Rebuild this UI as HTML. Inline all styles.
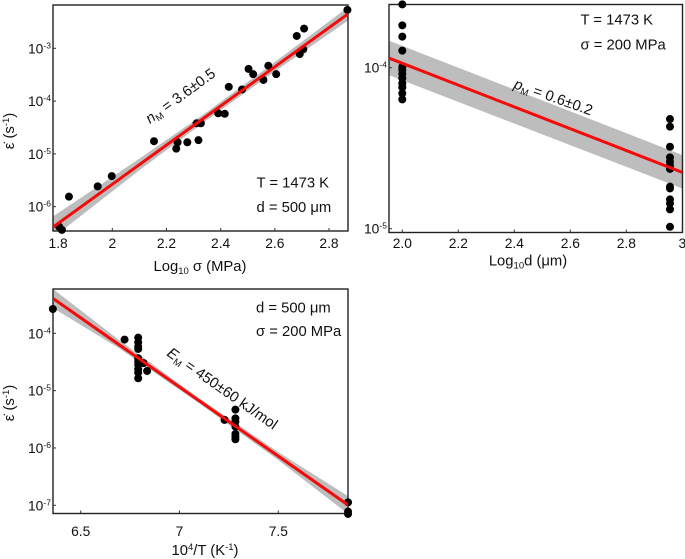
<!DOCTYPE html>
<html>
<head>
<meta charset="utf-8">
<title>Creep rate charts</title>
<style>
html,body{margin:0;padding:0;background:#fff;width:685px;height:559px;overflow:hidden}
svg{display:block;filter:blur(0.35px)}
text{font-family:"Liberation Sans","DejaVu Sans",sans-serif;fill:#111}
.a{font-size:14.8px}.t{font-size:13.8px}
</style>
</head>
<body>
<svg id="fig" xmlns="http://www.w3.org/2000/svg" width="685" height="559" viewBox="0 0 685 559">
<defs>
<clipPath id="c1"><rect x="53" y="5" width="295" height="226"/></clipPath>
<clipPath id="c2"><rect x="389" y="4.5" width="293.5" height="228"/></clipPath>
<clipPath id="c3"><rect x="53" y="289" width="295" height="224.5"/></clipPath>
</defs>
<g id="p1"></g>
<g id="p2"></g>
<g id="p3"></g>

<text class="a" x="200" y="271" text-anchor="middle">Log<tspan font-size="9.5" dy="3">10</tspan><tspan dy="-3"> σ (MPa)</tspan></text>
<text class="a" transform="translate(14,131) rotate(-90)" text-anchor="middle">ε̇ (s<tspan font-size="9.5" dy="-5">-1</tspan><tspan dy="5">)</tspan></text>
<text class="a" x="256.5" y="187.5">T = 1473 K</text>
<text class="a" x="256.5" y="212">d = 500 μm</text>
<text class="a" transform="translate(150,124) rotate(-36)"><tspan font-style="italic">n</tspan><tspan font-size="9.5" dy="3">M</tspan><tspan dy="-3"> = 3.6±0.5</tspan></text>

<text class="a" x="528" y="265.5" text-anchor="middle">Log<tspan font-size="9.5" dy="3">10</tspan><tspan dy="-3">d (μm)</tspan></text>
<text class="a" x="580.5" y="24.5">T = 1473 K</text>
<text class="a" x="580.5" y="49.5">σ = 200 MPa</text>
<text class="a" transform="translate(513,88) rotate(19.5)"><tspan font-style="italic">p</tspan><tspan font-size="9.5" dy="3">M</tspan><tspan dy="-3"> = 0.6±0.2</tspan></text>

<text class="a" x="205" y="555" text-anchor="middle">10<tspan font-size="9.5" dy="-5">4</tspan><tspan dy="5">/T (K</tspan><tspan font-size="9.5" dy="-5">-1</tspan><tspan dy="5">)</tspan></text>
<text class="a" transform="translate(14,403) rotate(-90)" text-anchor="middle">ε̇ (s<tspan font-size="9.5" dy="-5">-1</tspan><tspan dy="5">)</tspan></text>
<text class="a" x="256" y="312.5">d = 500 μm</text>
<text class="a" x="256" y="336">σ = 200 MPa</text>
<text class="a" transform="translate(166,355) rotate(35)"><tspan font-style="italic">E</tspan><tspan font-size="9.5" dy="3">M</tspan><tspan dy="-3"> = 450±60 kJ/mol</tspan></text>
</svg>
<script>
// Panel 1: stress
const p1XTicks = [1.8, 2, 2.2, 2.4, 2.6, 2.8];
const p1YTicks = [-3, -4, -5, -6];
const p1PointsX = [2.868,2.708,2.681,2.705,2.692,2.576,2.503,2.52,2.605,2.558,2.479,2.43,2.391,2.415,2.311,2.327,2.154,2.241,2.277,2.318,2.236,1.998,1.946,1.84,1.804,1.814];
const p1PointsLogRate = [-2.274,-2.627,-2.766,-3.02,-3.11,-3.33,-3.39,-3.49,-3.49,-3.6,-3.78,-3.73,-4.23,-4.24,-4.42,-4.42,-4.76,-4.78,-4.78,-4.74,-4.9,-5.42,-5.615,-5.81,-6.38,-6.44];
const p1FitX = [1.78, 2.87];
const p1FitLogRate = [-6.39, -2.35];
const p1BandX = [1.78, 2.1, 2.35, 2.6, 2.87];
const p1BandUpper = [-6.19, -5.09, -4.205, -3.26, -2.223];
const p1BandLower = [-6.59, -5.31, -4.355, -3.44, -2.477];

// Panel 2: grain size
const p2XTicks = [2, 2.2, 2.4, 2.6, 2.8, 3];
const p2XTickLabels = ["2.0", "2.2", "2.4", "2.6", "2.8", "3"];
const p2YTicks = [-4, -5];
const p2PointsX = [2,2,2,2,2,2,2,2,2,2,2,2,2.956,2.956,2.956,2.956,2.956,2.956,2.956,2.956,2.956,2.956,2.956,2.956,2.956];
const p2PointsLogRate = [-3.607,-3.737,-3.807,-3.894,-3.994,-4.014,-4.039,-4.066,-4.097,-4.122,-4.159,-4.197,-4.319,-4.366,-4.491,-4.557,-4.584,-4.609,-4.629,-4.739,-4.75,-4.818,-4.843,-4.88,-4.988];
const p2FitX = [1.952, 3];
const p2FitLogRate = [-3.94, -4.65];
const p2BandX = [1.952, 3];
const p2BandUpper = [-3.832, -4.542];
const p2BandLower = [-4.046, -4.75];

// Panel 3: temperature
const p3XTicks = [6.5, 7, 7.5];
const p3YTicks = [-4, -5, -6, -7];
const p3PointsX = [6.359,6.722,6.791,6.791,6.791,6.791,6.791,6.791,6.791,6.791,6.791,6.791,6.818,6.836,7.228,7.283,7.283,7.283,7.283,7.283,7.283,7.283,7.853,7.853,7.853];
const p3PointsLogRate = [-3.576,-4.11,-4.076,-4.157,-4.233,-4.273,-4.436,-4.494,-4.552,-4.628,-4.686,-4.785,-4.52,-4.657,-5.51,-5.331,-5.483,-5.541,-5.628,-5.756,-5.802,-5.849,-6.948,-7.11,-7.151];
const p3FitX = [6.359, 7.855];
const p3FitLogRate = [-3.39, -7.0];
const p3BandX = [6.359, 6.7, 7.1, 7.5, 7.855];
const p3BandUpper = [-3.224, -4.133, -5.133, -6.073, -6.845];
const p3BandLower = [-3.556, -4.273, -5.223, -6.213, -7.155];

const NS = 'http://www.w3.org/2000/svg';
function mk(parent, tag, attrs) {
  const el = document.createElementNS(NS, tag);
  for (const k in attrs) el.setAttribute(k, attrs[k]);
  parent.appendChild(el);
  return el;
}
function linear(d0, d1, r0, r1) {
  return function (v) { return r0 + (v - d0) * (r1 - r0) / (d1 - d0); };
}
function drawPanel(cfg) {
  const g = document.getElementById(cfg.id);
  const sx = cfg.sx, sy = cfg.sy;

  let pts = cfg.bandX.map(function (x, i) { return sx(x) + ',' + sy(cfg.bandUpper[i]); });
  for (let i = cfg.bandX.length - 1; i >= 0; i--) pts.push(sx(cfg.bandX[i]) + ',' + sy(cfg.bandLower[i]));
  const band = mk(g, 'polygon', {points: pts.join(' '), fill: '#bdbdbd', 'clip-path': 'url(#' + cfg.clip + ')'});
  
  

  const frame = mk(g, 'rect', {x: cfg.box[0], y: cfg.box[1], width: cfg.box[2] - cfg.box[0], height: cfg.box[3] - cfg.box[1], fill: 'none', stroke: '#222', 'stroke-width': 1.4});
  
  

  cfg.xTicks.forEach(function (t, i) {
    const x = sx(t);
    const tick = mk(g, 'line', {x1: x, x2: x, y1: cfg.box[3], y2: cfg.box[3] - 3, stroke: '#333', 'stroke-width': 1});
    
    
    const lab = mk(g, 'text', {x: x, y: cfg.xLabelY, 'text-anchor': 'middle', class: 't'});
    
    
    lab.textContent = cfg.xTickLabels ? cfg.xTickLabels[i] : String(t);
  });

  cfg.yTicks.forEach(function (t) {
    const y = sy(t);
    const tick = mk(g, 'line', {x1: cfg.box[0], x2: cfg.box[0] + 3, y1: y, y2: y, stroke: '#333', 'stroke-width': 1});
    
    
    const lab = mk(g, 'text', {x: cfg.box[0] - 25, y: y + 5, class: 't'});
    
    
    lab.appendChild(document.createTextNode('10'));
    const sup = mk(lab, 'tspan', {'font-size': 8.5, dy: -5});
    sup.textContent = String(t);
  });

  cfg.px.forEach(function (x, i) {
    const dot = mk(g, 'circle', {cx: sx(x), cy: sy(cfg.py[i]), r: 4, fill: '#000'});
    
    
  });

  const fit = mk(g, 'line', {x1: sx(cfg.fitX[0]), y1: sy(cfg.fitY[0]), x2: sx(cfg.fitX[1]), y2: sy(cfg.fitY[1]), stroke: '#f50a0a', 'stroke-width': 3, 'clip-path': 'url(#' + cfg.clip + ')'});
  
  
}

drawPanel({
  id: 'p1', clip: 'c1', box: [53, 5, 348, 231],
  sx: linear(2, 2.8, 112.3, 329), sy: linear(-3, -6, 48.3, 206.7),
  xTicks: p1XTicks, yTicks: p1YTicks, xLabelY: 248,
  px: p1PointsX, py: p1PointsLogRate, fitX: p1FitX, fitY: p1FitLogRate,
  bandX: p1BandX, bandUpper: p1BandUpper, bandLower: p1BandLower
});
drawPanel({
  id: 'p2', clip: 'c2', box: [389, 4.5, 682.5, 232.5],
  sx: linear(2, 2.8, 402.3, 626.3), sy: linear(-4, -5, 67.7, 228.7),
  xTicks: p2XTicks, xTickLabels: p2XTickLabels, yTicks: p2YTicks, xLabelY: 248,
  px: p2PointsX, py: p2PointsLogRate, fitX: p2FitX, fitY: p2FitLogRate,
  bandX: p2BandX, bandUpper: p2BandUpper, bandLower: p2BandLower
});
drawPanel({
  id: 'p3', clip: 'c3', box: [53, 289, 348, 513.5],
  sx: linear(6.5, 7.5, 80.7, 278.3), sy: linear(-4, -7, 333.3, 505.3),
  xTicks: p3XTicks, yTicks: p3YTicks, xLabelY: 536,
  px: p3PointsX, py: p3PointsLogRate, fitX: p3FitX, fitY: p3FitLogRate,
  bandX: p3BandX, bandUpper: p3BandUpper, bandLower: p3BandLower
});
</script>
</body>
</html>
